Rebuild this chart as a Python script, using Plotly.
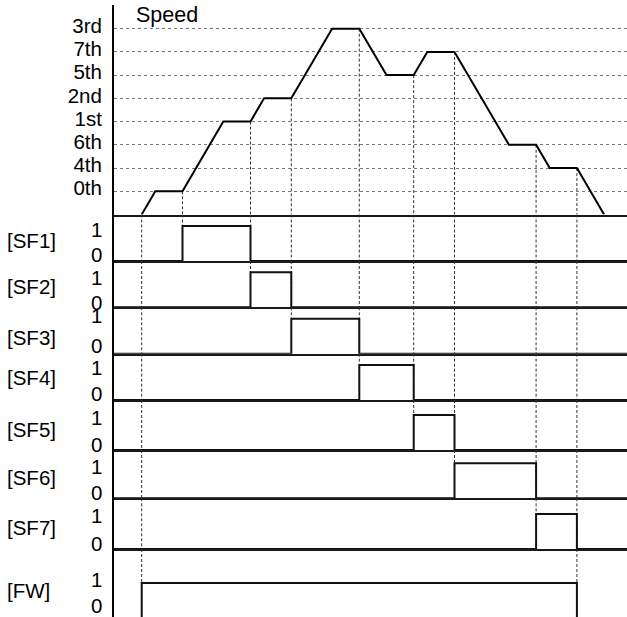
import numpy as np
import plotly.graph_objects as go

# ---------------- data ----------------
speed_t = [0, 1, 3, 6, 8, 9, 11, 14, 16, 18, 20, 21, 23, 27, 29, 30, 32, 34]
speed_level = [0, 1, 1, 4, 4, 5, 5, 8, 8, 6, 6, 7, 7, 3, 3, 2, 2, 0]
level_vals = [1, 2, 3, 4, 5, 6, 7, 8]
level_names = ["0th", "4th", "6th", "1st", "2nd", "5th", "7th", "3rd"]
signal_names = ["[SF1]", "[SF2]", "[SF3]", "[SF4]", "[SF5]", "[SF6]", "[SF7]", "[FW]"]
signal_on = [3, 8, 11, 16, 20, 23, 29, 0]
signal_off = [8, 11, 16, 20, 23, 29, 32, 32]

# ---------------- layout constants (pixels) ----------------
W, H = 627, 617
AX_PX = 114
T0_PX, PX_PER_T = 141.7, 13.6
x_lo = (AX_PX - T0_PX) / PX_PER_T
x_hi = (W - T0_PX) / PX_PER_T

SPEED_TOP, SPEED_BASE, PX_LEVEL = 5, 214.5, 23.23
row_base = [261, 307.3, 353.7, 400, 450, 498.3, 549, 618]
HIGH_PX = 35
row_label_py = [240.5, 287, 337, 377, 429, 477, 527, 590]
one_label_py = [229, 277, 315, 367.5, 417, 466, 515, 579]
zero_label_py = [254, 302.5, 345.5, 393.5, 444, 492.5, 543, 605]

FONT = "Liberation Sans, Arial, sans-serif"
FS = 20.5


def py(p):
    return 1 - p / H


def px_x(p):
    return (p - AX_PX) / (W - AX_PX)


fig = go.Figure()
layout = dict(
    width=W, height=H,
    margin=dict(l=AX_PX, r=0, t=0, b=0),
    paper_bgcolor="white", plot_bgcolor="white",
    showlegend=False,
    font=dict(family=FONT, size=FS, color="black"),
)

# axis definitions: index 0 = speed, 1..8 = signals
n_rows = 1 + len(signal_names)
ranges = []
tops = [SPEED_TOP] + [SPEED_BASE] + row_base[:-1]
bases = [SPEED_BASE] + row_base
for i in range(n_rows):
    top_px, base_px = tops[i], bases[i]
    bottom_px = min(base_px, H)
    scale = PX_LEVEL if i == 0 else HIGH_PX
    lo = (base_px - bottom_px) / scale
    hi = (base_px - top_px) / scale
    ranges.append((lo, hi))
    sfx = "" if i == 0 else str(i + 1)
    yax = dict(
        domain=[py(bottom_px), py(top_px)], range=[lo, hi],
        anchor="x" + sfx, showline=True, linewidth=2, linecolor="black",
        zeroline=False, showgrid=False, showticklabels=False, ticks="",
        fixedrange=True,
    )
    if i == 0:
        yax.update(
            tickvals=level_vals, ticktext=level_names, showticklabels=True,
            showgrid=True, gridcolor="#7a7a7a", gridwidth=1, griddash="dot",
            tickfont=dict(family=FONT, size=FS, color="black"),
            ticklabelstandoff=6, ticklabelshift=-3,
        )
    xax = dict(
        domain=[0, 1], range=[x_lo, x_hi], anchor="y" + sfx,
        showline=(i < n_rows - 1), linewidth=2, linecolor="#1a1a1a",
        showgrid=False, zeroline=False, showticklabels=False, ticks="",
        fixedrange=True,
    )
    if i > 0:
        xax["matches"] = "x"
    layout["xaxis" + sfx] = xax
    layout["yaxis" + sfx] = yax

# ---------------- dashed guide lines ----------------
events = sorted(set(signal_on) | set(signal_off))
seg = {i: ([], []) for i in range(n_rows)}
for t in events:
    stop = max(k for k in range(len(signal_names))
               if signal_on[k] == t or signal_off[k] == t) + 1
    lvl = float(np.interp(t, speed_t, speed_level))
    seg[0][0].extend([t, t, None]); seg[0][1].extend([lvl, ranges[0][0], None])
    for r in range(1, stop + 1):
        lo, hi = ranges[r]
        end = 1 if r == stop else lo
        seg[r][0].extend([t, t, None]); seg[r][1].extend([hi, end, None])
for i in range(n_rows):
    sfx = "" if i == 0 else str(i + 1)
    fig.add_trace(go.Scatter(
        x=seg[i][0], y=seg[i][1], mode="lines", xaxis="x" + sfx, yaxis="y" + sfx,
        line=dict(color="#333333", width=1, dash="3px,2px"), hoverinfo="skip"))

# ---------------- speed curve ----------------
fig.add_trace(go.Scatter(x=speed_t, y=speed_level, mode="lines",
                         line=dict(color="black", width=2), hoverinfo="skip"))

# ---------------- signals ----------------
for k in range(len(signal_names)):
    sfx = str(k + 2)
    fig.add_trace(go.Scatter(
        x=[x_lo, signal_on[k], signal_off[k], x_hi], y=[0, 1, 0, 0],
        mode="lines", line=dict(color="#111111", width=2, shape="hv"),
        xaxis="x" + sfx, yaxis="y" + sfx, hoverinfo="skip"))

# ---------------- text ----------------
ann = [dict(text="Speed", xref="paper", yref="paper", x=px_x(134), y=py(15),
            xanchor="left", yanchor="middle", showarrow=False,
            font=dict(family=FONT, size=21.5, color="black"))]
for k, name in enumerate(signal_names):
    ann.append(dict(text=name, xref="paper", yref="paper", x=px_x(5), y=py(row_label_py[k]),
                    xanchor="left", yanchor="middle", showarrow=False))
    ann.append(dict(text="1", xref="paper", yref="paper", x=px_x(103.5), y=py(one_label_py[k]),
                    xanchor="right", yanchor="middle", showarrow=False))
    ann.append(dict(text="0", xref="paper", yref="paper", x=px_x(103.5), y=py(zero_label_py[k]),
                    xanchor="right", yanchor="middle", showarrow=False))
layout["annotations"] = ann

fig.update_layout(**layout)
fig.write_html("out.html", config={"displayModeBar": False, "staticPlot": True},
               post_script="document.body.style.margin='0';")
